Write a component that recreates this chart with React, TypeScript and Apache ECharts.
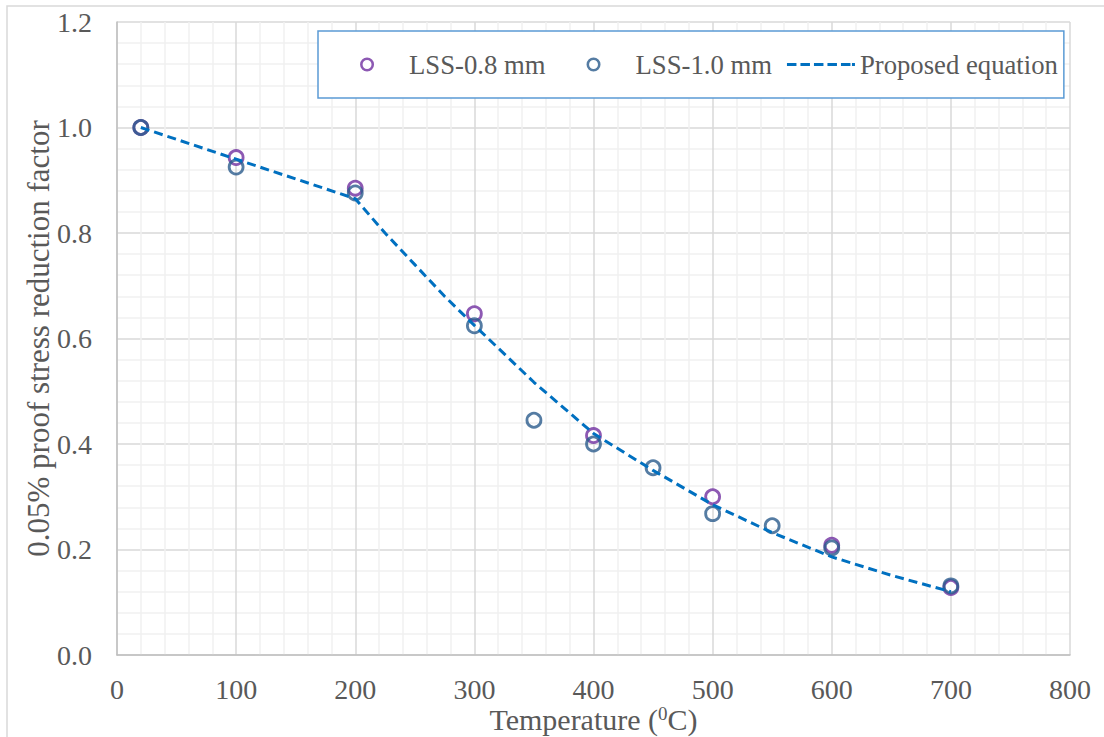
import React, { useEffect, useRef } from "react";
import * as echarts from "echarts";

const lss08Temps = [20, 100, 200, 300, 400, 500, 600, 700];
const lss08Values = [1.0, 0.943, 0.885, 0.647, 0.416, 0.3, 0.208, 0.128];

const lss10Temps = [20, 100, 200, 300, 350, 400, 450, 500, 550, 600, 700];
const lss10Values = [1.0, 0.925, 0.876, 0.624, 0.445, 0.4, 0.355, 0.268, 0.245, 0.203, 0.131];

const eqTemps = [20, 100, 200, 225, 250, 275, 300, 350, 400, 450, 500, 550, 600, 650, 700];
const eqValues = [1.0, 0.94, 0.865, 0.8, 0.74, 0.68, 0.625, 0.517, 0.42, 0.35, 0.285, 0.232, 0.186, 0.151, 0.12];

const xTicks = { min: 0, max: 800, interval: 100 };
const yTicks = { min: 0, max: 1.2, interval: 0.2 };

const FONT = "'Liberation Serif', 'Times New Roman', serif";
const TEXT = "#595959";

const zip = (xs: number[], ys: number[]) => xs.map((x, i) => [x, ys[i]]);

// legend icons drawn in a 68x14 box (tiny corner dots fix the bounding box)
const BOX = "M0,0 h0.01 v0.01 h-0.01 Z M68,14 h-0.01 v-0.01 h0.01 Z ";
const RING_ICON =
  "path://" +
  BOX +
  "M26.8,7 A7.2,7.2 0 1,0 41.2,7 A7.2,7.2 0 1,0 26.8,7 Z M29.4,7 A4.6,4.6 0 1,1 38.6,7 A4.6,4.6 0 1,1 29.4,7 Z";
const DASH_ICON =
  "path://" +
  BOX +
  "M0,5.5 h9.5 v3 h-9.5 Z M13.5,5.5 h9.5 v3 h-9.5 Z M27,5.5 h9.5 v3 h-9.5 Z M40.5,5.5 h9.5 v3 h-9.5 Z M54,5.5 h9.5 v3 h-9.5 Z M65,5.5 h3 v3 h-3 Z";

export default function App() {
  const ref = useRef<HTMLDivElement>(null);
  useEffect(() => {
    if (!ref.current) return;
    const chart = echarts.init(ref.current, undefined, { renderer: "svg" });
    chart.setOption({
      animation: false,
      backgroundColor: "#ffffff",
      textStyle: { fontFamily: FONT },
      graphic: [
        {
          type: "rect",
          shape: { x: 7, y: 6, width: 1110, height: 740 },
          style: { fill: "none", stroke: "#D9D9D9", lineWidth: 1.5 },
          silent: true,
          z: -10,
        },
      ],
      grid: { left: 117, right: 34, top: 22, bottom: 82, containLabel: false, outerBoundsMode: "none" },
      legend: {
        left: 318,
        top: 31,
        width: 780,
        orient: "horizontal",
        backgroundColor: "#ffffff",
        borderColor: "#5B9BD5",
        borderWidth: 1.5,
        borderRadius: 0,
        padding: [20, 6, 20, 16],
        itemWidth: 68,
        itemHeight: 14,
        itemGap: 15,
        symbolKeepAspect: true,
        textStyle: { fontFamily: FONT, fontSize: 26.7, color: TEXT, padding: [0, 0, 0, 3] },
        data: [
          { name: "LSS-0.8 mm", icon: RING_ICON, itemStyle: { color: "#7030A0", borderWidth: 0 } },
          { name: "LSS-1.0 mm", icon: RING_ICON, itemStyle: { color: "#2B5B8C", borderWidth: 0 } },
          {
            name: "Proposed equation",
            icon: DASH_ICON,
            itemStyle: { color: "#0070C0", borderWidth: 0 },
            textStyle: { padding: [0, 0, 0, 0] },
          },
        ],
      },
      xAxis: {
        type: "value",
        min: xTicks.min,
        max: xTicks.max,
        interval: xTicks.interval,
        name: "Temperature ({sup|0}C)",
        nameLocation: "middle",
        nameMoveOverlap: false,
        nameGap: 49,
        nameTextStyle: {
          fontFamily: FONT,
          fontSize: 30,
          color: TEXT,
          rich: {
            sup: { fontFamily: FONT, fontSize: 19, color: TEXT, verticalAlign: "top", padding: [0, 0, 12, 0] },
          },
        },
        axisLine: { show: true, lineStyle: { color: "#BFBFBF", width: 1.5 } },
        axisTick: { show: false },
        axisLabel: { fontFamily: FONT, fontSize: 28, color: TEXT, margin: 20 },
        splitLine: { show: true, lineStyle: { color: "#D9D9D9", width: 1.5 } },
        minorTick: { show: false, splitNumber: 5 },
        minorSplitLine: { show: true, lineStyle: { color: "#F0F0F0", width: 1.5 } },
      },
      yAxis: {
        type: "value",
        min: yTicks.min,
        max: yTicks.max,
        interval: yTicks.interval,
        name: "0.05% proof stress reduction factor",
        nameLocation: "middle",
        nameMoveOverlap: false,
        nameGap: 63,
        nameTextStyle: { fontFamily: FONT, fontSize: 31, color: TEXT },
        axisLine: { show: true, lineStyle: { color: "#BFBFBF", width: 1.5 } },
        axisTick: { show: false },
        axisLabel: {
          fontFamily: FONT,
          fontSize: 28,
          color: TEXT,
          margin: 25,
          formatter: (v: number) => v.toFixed(1),
        },
        splitLine: { show: true, lineStyle: { color: "#D9D9D9", width: 1.5 } },
        minorTick: { show: false, splitNumber: 5 },
        minorSplitLine: { show: true, lineStyle: { color: "#F0F0F0", width: 1.5 } },
      },
      series: [
        {
          name: "LSS-0.8 mm",
          type: "scatter",
          data: zip(lss08Temps, lss08Values),
          symbol: "circle",
          symbolSize: 14,
          itemStyle: { color: "#ffffff", borderColor: "#7030A0", borderWidth: 2.8 },
          z: 2,
        },
        {
          name: "LSS-1.0 mm",
          type: "scatter",
          data: zip(lss10Temps, lss10Values),
          symbol: "circle",
          symbolSize: 14,
          itemStyle: { color: "rgba(255,255,255,0)", borderColor: "#2B5B8C", borderWidth: 2.8 },
          z: 3,
        },
        {
          name: "Proposed equation",
          type: "line",
          data: zip(eqTemps, eqValues),
          symbol: "none",
          showSymbol: false,
          smooth: false,
          lineStyle: { color: "#0070C0", width: 3, type: [9, 5] },
          itemStyle: { color: "#0070C0" },
          z: 4,
        },
      ],
    });
    return () => chart.dispose();
  }, []);
  return (
    <div
      ref={ref}
      style={{ position: "fixed", left: 0, top: 0, width: 1104, height: 737, background: "#fff" }}
    />
  );
}
